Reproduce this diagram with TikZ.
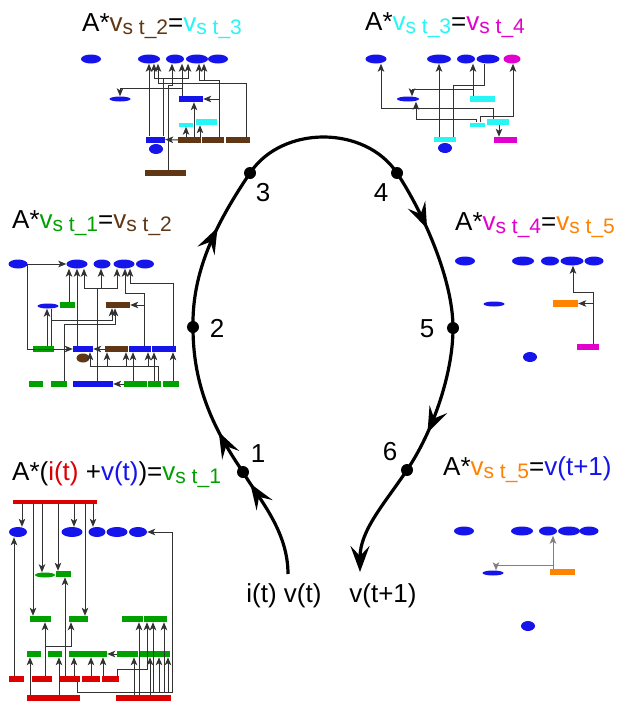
\documentclass[tikz,border=0pt]{standalone}
\usepackage{fontspec}
\setmainfont{Liberation Sans}
\usetikzlibrary{arrows.meta}
\usetikzlibrary{shapes.geometric}
\usetikzlibrary{decorations.markings}
\definecolor{cellblue}{RGB}{20, 20, 235}
\definecolor{vcyan}{RGB}{40, 245, 245}
\definecolor{vgreen}{RGB}{0, 160, 0}
\definecolor{vbrown}{RGB}{95, 55, 20}
\definecolor{vmagenta}{RGB}{225, 0, 205}
\definecolor{vorange}{RGB}{255, 130, 0}
\definecolor{vred}{RGB}{220, 0, 0}
\definecolor{wiregray}{RGB}{50, 50, 50}

% coloured state vector v with its "s t_k" index
\newcommand\vsub[2]{\textcolor{#1}{v\raisebox{-3pt}{\fontsize{21}{21}\selectfont s t\_#2}}}

\begin{document}
\begin{tikzpicture}[x=1pt, y=-1pt,
    >={Stealth[length=8pt, width=6.5pt, inset=2pt]},
    cell/.style={ellipse, fill=#1, inner sep=0pt},
    slab/.style={rectangle, fill=#1, inner sep=0pt},
    wire/.style={draw=wiregray, line width=1pt},
    joint/.style={circle, fill=black, inner sep=0pt, minimum size=12pt},
    lbl/.style={inner sep=0pt, font=\fontsize{26}{30}\selectfont},
    heading/.style={lbl, anchor=base west},
    loopline/.style={line width=3.2pt},
    midarrow/.style={postaction={decorate, decoration={markings,
        mark=at position #1 with {\arrow{Stealth[length=26pt, width=19pt, inset=10pt]}}}}}]
    \fill[white] (0,0) rectangle (621,704);
    \useasboundingbox (0,0) rectangle (621,704);

    % Cycle of the six steps
    \node[joint] (d1) at (243,472) {};
    \node[joint] (d2) at (193,327) {};
    \node[joint] (d3) at (250,173) {};
    \node[joint] (d4) at (397,173) {};
    \node[joint] (d5) at (453,328) {};
    \node[joint] (d6) at (407,470) {};
    \coordinate (vin)  at (288,574);
    \coordinate (vout) at (360,572);
    \draw[loopline, midarrow=0.88] (vin) .. controls (288,530) and (258,498) .. (d1.center);
    \draw[loopline, midarrow=0.3] (d1.center) .. controls (207,420) and (193,377) .. (d2.center);
    \draw[loopline, midarrow=0.62] (d2.center) .. controls (192,272) and (215,225) .. (d3.center);
    \draw[loopline] (d3.center) .. controls (282,125) and (365,125) .. (d4.center);
    \draw[loopline, midarrow=0.38] (d4.center) .. controls (424,214) and (453,280) .. (d5.center);
    \draw[loopline, midarrow=0.72] (d5.center) .. controls (453,375) and (432,433) .. (d6.center);
    \draw[loopline, -{Stealth[length=26pt, width=19pt, inset=10pt]}]
        (d6.center) .. controls (385,503) and (360,530) .. (vout);
    \node[lbl] (n1) at (258,454) {1};
    \node[lbl] (n2) at (217,328) {2};
    \node[lbl] (n3) at (263,193) {3};
    \node[lbl] (n4) at (381,193) {4};
    \node[lbl] (n5) at (427,329) {5};
    \node[lbl] (n6) at (390,452) {6};
    \node[lbl] (inp)  at (284,596) {i(t) v(t)};
    \node[lbl] (outp) at (383,596) {v(t+1)};

    % Step 1: A*(i(t)+v(t))
    \node[heading] (h1) at (12,480) {A*(\textcolor{vred}{i(t)} +\textcolor{cellblue}{v(t)})=\vsub{vgreen}{1}};
    \node[slab=vred, minimum width=84, minimum height=4] (s1r0) at (55,501.5) {};
    \node[cell=cellblue, minimum width=18, minimum height=10] (s1e1) at (18,532) {};
    \node[cell=cellblue, minimum width=21, minimum height=10] (s1e2) at (72,532) {};
    \node[cell=cellblue, minimum width=17, minimum height=10] (s1e3) at (97,532) {};
    \node[cell=cellblue, minimum width=21, minimum height=10] (s1e4) at (117,532) {};
    \node[cell=cellblue, minimum width=18, minimum height=10] (s1e5) at (138,532) {};
    \node[cell=vgreen, minimum width=20, minimum height=5] (s1e6) at (45,575) {};
    \node[slab=vgreen, minimum width=15, minimum height=6] (s1g0) at (63.5,574) {};
    \node[slab=vgreen, minimum width=21, minimum height=6] (s1g1) at (40.5,619) {};
    \node[slab=vgreen, minimum width=19, minimum height=6] (s1g2) at (78.5,619) {};
    \node[slab=vgreen, minimum width=21, minimum height=6] (s1g3) at (132.5,619) {};
    \node[slab=vgreen, minimum width=23, minimum height=6] (s1g4) at (155.5,619) {};
    \node[slab=vgreen, minimum width=14, minimum height=6] (s1g5) at (34,654) {};
    \node[slab=vgreen, minimum width=14, minimum height=6] (s1g6) at (55,654) {};
    \node[slab=vgreen, minimum width=38, minimum height=6] (s1g7) at (88,654) {};
    \node[slab=vgreen, minimum width=21, minimum height=6] (s1g8) at (127.5,654) {};
    \node[slab=vgreen, minimum width=30, minimum height=6] (s1g9) at (155,654) {};
    \node[slab=vred, minimum width=15, minimum height=6] (s1r1) at (16.5,679) {};
    \node[slab=vred, minimum width=20, minimum height=6] (s1r2) at (42,679) {};
    \node[slab=vred, minimum width=20, minimum height=6] (s1r3) at (70,679) {};
    \node[slab=vred, minimum width=18, minimum height=6] (s1r4) at (91,679) {};
    \node[slab=vred, minimum width=17, minimum height=6] (s1r5) at (110.5,679) {};
    \node[slab=vred, minimum width=53, minimum height=6] (s1r6) at (53.5,698) {};
    \node[slab=vred, minimum width=55, minimum height=6] (s1r7) at (143.5,698) {};
    \draw[wire,->] (22,0 |- s1r0.south) -- (22,0 |- s1e1.north);
    \draw[wire,->] (33,0 |- s1r0.south) -- (33,0 |- s1g1.north);
    \draw[wire,->] (42,0 |- s1r0.south) -- (42,0 |- s1e6.north);
    \draw[wire,->] (58,0 |- s1r0.south) -- (58,0 |- s1g0.north);
    \draw[wire,->] (74,0 |- s1r0.south) -- (74,0 |- s1e2.north);
    \draw[wire,->] (85,0 |- s1r0.south) -- (85,0 |- s1g2.north);
    \draw[wire,->] (93,0 |- s1r0.south) -- (93,0 |- s1e3.north);
    \draw[wire,->] (14,0 |- s1r1.north) -- (14,0 |- s1e1.south);
    \draw[wire,->] (77,0 |- s1r3.south) |- (172,692) |- (s1e5.east);
    \draw[wire,->] (65,0 |- s1r3.north) -- (65,0 |- s1g0.south);
    \draw[wire,->] (45,0 |- s1r2.north) -- (45,0 |- s1g1.south);
    \draw[wire,->] (45,646) -| (71,0 |- s1g2.south);
    \draw[wire,->] (30,0 |- s1r6.north) -- (30,0 |- s1g5.south);
    \draw[wire,->] (59,0 |- s1r6.north) -- (59,0 |- s1g6.south);
    \draw[wire,->] (74,0 |- s1r3.north) -- (74,0 |- s1g7.south);
    \draw[wire,->] (91,0 |- s1r4.north) -- (91,0 |- s1g7.south);
    \draw[wire,->] (103,0 |- s1r5.north) -- (103,0 |- s1g7.south);
    \draw[wire,->] (s1g8.west) -- (s1g7.east);
    \draw[wire,->] (117,0 |- s1r5.north) |- (147,669) -- (147,0 |- s1g4.south);
    \draw[wire,->] (134,0 |- s1r7.north) -- (134,0 |- s1g8.south);
    \draw[wire,->] (139,0 |- s1r7.north) -- (139,0 |- s1g3.south);
    \draw[wire,->] (150,0 |- s1r7.north) -- (150,0 |- s1g9.south);
    \draw[wire,->] (153,692) -- (153,0 |- s1g4.south);
    \draw[wire,->] (159,692) -- (159,0 |- s1g9.south);
    \draw[wire,->] (164,692) -- (164,0 |- s1g4.south);
    \draw[wire,->] (168,692) -- (168,0 |- s1g9.south);

    % Step 2: A*v_st1
    \node[heading] (h2) at (12,228) {A*\vsub{vgreen}{1}=\vsub{vbrown}{2}};
    \node[cell=cellblue, minimum width=19, minimum height=9] (s2e1) at (18,264) {};
    \node[cell=cellblue, minimum width=21, minimum height=9] (s2e2) at (77,264) {};
    \node[cell=cellblue, minimum width=17, minimum height=9] (s2e3) at (102,264) {};
    \node[cell=cellblue, minimum width=21, minimum height=9] (s2e4) at (124,264) {};
    \node[cell=cellblue, minimum width=18, minimum height=9] (s2e5) at (145,264) {};
    \node[cell=cellblue, minimum width=21, minimum height=5] (s2e6) at (48,306) {};
    \node[cell=vbrown, minimum width=13, minimum height=9] (s2e7) at (83,358) {};
    \node[slab=vgreen, minimum width=15, minimum height=6] (s2g1) at (67.5,305) {};
    \node[slab=vbrown, minimum width=24, minimum height=6] (s2r1) at (118,305) {};
    \node[slab=vgreen, minimum width=21, minimum height=6] (s2g2) at (43.5,349) {};
    \node[slab=cellblue, minimum width=20, minimum height=6] (s2b1) at (83,349) {};
    \node[slab=vbrown, minimum width=23, minimum height=6] (s2r2) at (116.5,349) {};
    \node[slab=cellblue, minimum width=22, minimum height=6] (s2b2) at (140,349) {};
    \node[slab=cellblue, minimum width=24, minimum height=6] (s2b3) at (164,349) {};
    \node[slab=vgreen, minimum width=14, minimum height=6] (s2g3) at (36,384) {};
    \node[slab=vgreen, minimum width=16, minimum height=6] (s2g4) at (59,384) {};
    \node[slab=cellblue, minimum width=40, minimum height=6] (s2b4) at (93,384) {};
    \node[slab=vgreen, minimum width=23, minimum height=6] (s2g5) at (135.5,384) {};
    \node[slab=vgreen, minimum width=13, minimum height=6] (s2g6) at (154.5,384) {};
    \node[slab=vgreen, minimum width=16, minimum height=6] (s2g7) at (171,384) {};
    \draw[wire,->] (s2e1.east) -- (s2e2.west);
    \draw[wire,->] (27,0 |- s2e1.center) |- (s2b1.west);
    \draw[wire,->] (69,0 |- s2g1.north) -- (69,0 |- s2e2.south);
    \draw[wire,->] (77,0 |- s2b1.north) -- (77,0 |- s2e2.south);
    \draw[wire,->] (97,0 |- s2b4.north) |- (84,288) -- (84,0 |- s2e2.south);
    \draw[wire,->] (97,288) -| (101,0 |- s2e3.south);
    \draw[wire,->] (97,288) -| (117,0 |- s2e4.south);
    \draw[wire,->] (144,0 |- s2b2.north) |- (125,293) -- (125,0 |- s2e4.south);
    \draw[wire,->] (144,0 |- s2r1.east) -- (s2r1.east);
    \draw[wire,->] (173,0 |- s2b3.north) |- (130,283) -- (130,0 |- s2e4.south);
    \draw[wire,->] (47,0 |- s2g2.north) -- (47,0 |- s2e6.south);
    \draw[wire] (51,0 |- s2g2.north) -- (51,0 |- s2e6.south);
    \draw[wire,->] (51,320) -| (112,0 |- s2r1.south);
    \draw[wire,->] (64,0 |- s2g4.north) |- (115,324) -- (115,0 |- s2r1.south);
    \draw[wire,->] (s2r2.west) -- (s2b1.east);
    \draw[wire,->] (158,0 |- s2g6.north) |- (90,366) -- (90,0 |- s2b1.south);
    \draw[wire,->] (107,366) -- (107,0 |- s2r2.south);
    \draw[wire,->] (126,366) -- (126,0 |- s2r2.south);
    \draw[wire,->] (148,366) -- (148,0 |- s2b2.south);
    \draw[wire,->] (133,0 |- s2g5.north) -- (133,0 |- s2b2.south);
    \draw[wire,->] (154,0 |- s2g6.north) -- (154,0 |- s2b3.south);
    \draw[wire,->] (173,0 |- s2g7.north) -- (173,0 |- s2b3.south);
    \draw[wire,->] (s2g5.west) -- (s2b4.east);

    % Step 3: A*v_st2
    \node[heading] (h3) at (82,31) {A*\vsub{vbrown}{2}=\vsub{vcyan}{3}};
    \node[cell=cellblue, minimum width=20, minimum height=9] (s3e1) at (91,59) {};
    \node[cell=cellblue, minimum width=22, minimum height=9] (s3e2) at (149,59) {};
    \node[cell=cellblue, minimum width=18, minimum height=9] (s3e3) at (175,59) {};
    \node[cell=cellblue, minimum width=22, minimum height=9] (s3e4) at (197,59) {};
    \node[cell=cellblue, minimum width=20, minimum height=9] (s3e5) at (218,59) {};
    \node[cell=cellblue, minimum width=21, minimum height=5] (s3e6) at (120,99) {};
    \node[cell=cellblue, minimum width=14, minimum height=10] (s3e7) at (156,149) {};
    \node[slab=cellblue, minimum width=24, minimum height=6] (s3b1) at (191,99) {};
    \node[slab=cellblue, minimum width=19, minimum height=6] (s3b2) at (155.5,139.5) {};
    \node[slab=vcyan, minimum width=14, minimum height=4] (s3c1) at (186,124.5) {};
    \node[slab=vcyan, minimum width=21, minimum height=6] (s3c2) at (206.5,122) {};
    \node[slab=vbrown, minimum width=23, minimum height=6] (s3r1) at (189.5,140) {};
    \node[slab=vbrown, minimum width=22, minimum height=6] (s3r2) at (213,140) {};
    \node[slab=vbrown, minimum width=24, minimum height=6] (s3r3) at (238,140) {};
    \node[slab=vbrown, minimum width=41, minimum height=6] (s3r4) at (165.5,173) {};
    \draw[wire,->] (149,0 |- s3b2.north) -- (149,0 |- s3e2.south);
    \draw[wire,->] (182,0 |- s3b1.north) -- (182,0 |- s3e3.south);
    \draw[wire,->] (182,88) -| (120,0 |- s3e6.north);
    \draw[wire,->] (163,0 |- s3b2.north) |- (154,78) -- (154,0 |- s3e2.south);
    \draw[wire,->] (163,78) -| (188,0 |- s3e4.south);
    \draw[wire,->] (168,0 |- s3r4.north) |- (172,85) -- (172,0 |- s3e3.south);
    \draw[wire,->] (s3r1.west) -- (s3b2.east);
    \draw[wire,->] (194,0 |- s3r1.north) -- (194,0 |- s3b1.south);
    \draw[wire,->] (186,0 |- s3r1.north) -- (186,0 |- s3c1.south);
    \draw[wire,->] (200,0 |- s3r1.north) -- (200,0 |- s3c2.south);
    \draw[wire,->] (219,0 |- s3r2.north) |- (199,80) -- (199,0 |- s3e4.south);
    \draw[wire,->] (204,80) -- (204,0 |- s3e4.south);
    \draw[wire,->] (219,0 |- s3b1.east) -- (s3b1.east);
    \draw[wire,->] (246,0 |- s3r3.north) |- (158,83) -- (158,0 |- s3e2.south);

    % Step 4: A*v_st3
    \node[heading] (h4) at (365,30) {A*\vsub{vcyan}{3}=\vsub{vmagenta}{4}};
    \node[cell=cellblue, minimum width=21, minimum height=9] (s4e1) at (376,59) {};
    \node[cell=cellblue, minimum width=24, minimum height=9] (s4e2) at (439,59) {};
    \node[cell=cellblue, minimum width=18, minimum height=9] (s4e3) at (466,59) {};
    \node[cell=cellblue, minimum width=23, minimum height=9] (s4e4) at (488,59) {};
    \node[cell=vmagenta, minimum width=17, minimum height=9] (s4e5) at (512,59) {};
    \node[cell=cellblue, minimum width=22, minimum height=5] (s4e6) at (408,99) {};
    \node[cell=cellblue, minimum width=14, minimum height=10] (s4e7) at (445,148) {};
    \node[slab=vcyan, minimum width=25, minimum height=6] (s4c1) at (482.5,99) {};
    \node[slab=vcyan, minimum width=15, minimum height=4] (s4c2) at (477.5,124.5) {};
    \node[slab=vcyan, minimum width=22, minimum height=6] (s4c3) at (498,122) {};
    \node[slab=vcyan, minimum width=22, minimum height=5] (s4c4) at (445,139.5) {};
    \node[slab=vmagenta, minimum width=23, minimum height=6] (s4m1) at (505.5,140) {};
    \draw[wire,->] (439,0 |- s4c4.north) -- (439,0 |- s4e2.south);
    \draw[wire] (453,0 |- s4c4.north) |- (484,85) -- (484,0 |- s4e4.south);
    \draw[wire,->] (493,0 |- s4c3.north) |- (381,108) -- (381,0 |- s4e1.south);
    \draw[wire,->] (473,0 |- s4c1.north) -- (473,0 |- s4e3.south);
    \draw[wire,->] (473,89) -| (412,0 |- s4e6.north);
    \draw[wire,->] (476,0 |- s4c2.north) |- (416,119) -- (416,0 |- s4e6.south);
    \draw[wire,->] (480,0 |- s4c2.north) |- (513,116) -- (513,0 |- s4e5.south);
    \draw[wire,->] (499,0 |- s4c3.south) -- (499,0 |- s4m1.north);

    % Step 5: A*v_st4
    \node[heading] (h5) at (455,230) {A*\vsub{vmagenta}{4}=\vsub{vorange}{5}};
    \node[cell=cellblue, minimum width=20, minimum height=9] (s5e1) at (465,261) {};
    \node[cell=cellblue, minimum width=22, minimum height=9] (s5e2) at (523,261) {};
    \node[cell=cellblue, minimum width=18, minimum height=9] (s5e3) at (550,261) {};
    \node[cell=cellblue, minimum width=23, minimum height=9] (s5e4) at (572,261) {};
    \node[cell=cellblue, minimum width=19, minimum height=9] (s5e5) at (594,261) {};
    \node[cell=cellblue, minimum width=21, minimum height=5] (s5e6) at (494,304) {};
    \node[cell=cellblue, minimum width=14, minimum height=10] (s5e7) at (530,357) {};
    \node[slab=vorange, minimum width=25, minimum height=7] (s5o1) at (565.5,303.5) {};
    \node[slab=vmagenta, minimum width=22, minimum height=6] (s5m1) at (588,347) {};
    \draw[wire,->] (593,0 |- s5m1.north) |- (573,292) -- (573,0 |- s5e4.south);
    \draw[wire,->] (593,0 |- s5o1.east) -- (s5o1.east);

    % Step 6: A*v_st5 gives v(t+1)
    \node[heading] (h6) at (443,475) {A*\vsub{vorange}{5}=\textcolor{cellblue}{v(t+1)}};
    \node[cell=cellblue, minimum width=20, minimum height=9] (s6e1) at (464,531) {};
    \node[cell=cellblue, minimum width=22, minimum height=9] (s6e2) at (522,531) {};
    \node[cell=cellblue, minimum width=18, minimum height=9] (s6e3) at (548,531) {};
    \node[cell=cellblue, minimum width=22, minimum height=9] (s6e4) at (569,531) {};
    \node[cell=cellblue, minimum width=19, minimum height=9] (s6e5) at (589,531) {};
    \node[cell=cellblue, minimum width=21, minimum height=5] (s6e6) at (493,573) {};
    \node[cell=cellblue, minimum width=14, minimum height=10] (s6e7) at (528,626) {};
    \node[slab=vorange, minimum width=25, minimum height=6] (s6o1) at (562.5,572) {};
    \draw[wire, draw=gray, ->] (553,0 |- s6o1.north) -- (553,0 |- s6e3.south);
    \draw[wire, draw=gray, ->] (553,565) -| (496,0 |- s6e6.north);
\end{tikzpicture}
\end{document}
